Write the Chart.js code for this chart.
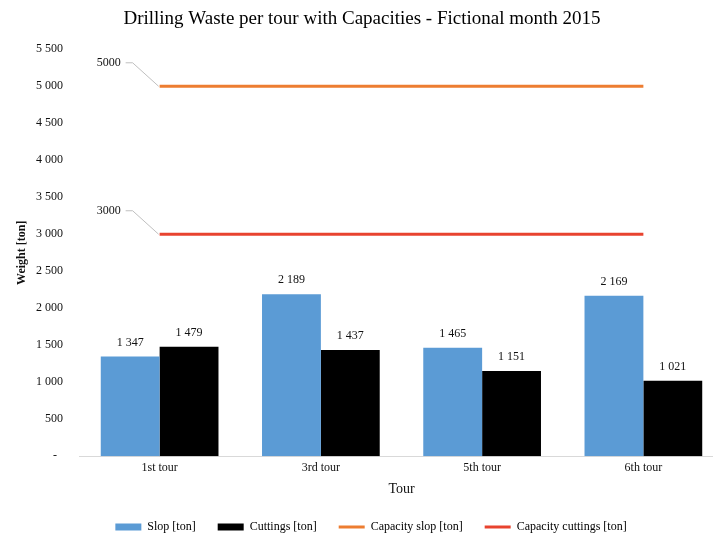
<!DOCTYPE html>
<html>
<head>
<meta charset="utf-8">
<script src="https://cdn.jsdelivr.net/npm/chart.js@4/dist/chart.umd.min.js"></script>
<style>
html, body { margin: 0; padding: 0; overflow: hidden; background: #fff; width: 713px; height: 536px; }
#wrap { width: 732px; height: 543px; }
</style>
</head>
<body>
<div id="wrap"><canvas id="c" width="732" height="543"></canvas></div>
<script>
const categories = ['1st tour', '3rd tour', '5th tour', '6th tour'];
const slop = [1347, 2189, 1465, 2169];
const cuttings = [1479, 1437, 1151, 1021];
const capacitySlop = [5000, 5000, 5000, 5000];
const capacityCuttings = [3000, 3000, 3000, 3000];
const seriesNames = ['Slop [ton]', 'Cuttings [ton]', 'Capacity slop [ton]', 'Capacity cuttings [ton]'];
const chartTitle = 'Drilling Waste per tour with Capacities - Fictional month 2015';
const xTitle = 'Tour';
const yTitle = 'Weight [ton]';

const SERIF = "'Liberation Serif', 'Times New Roman', serif";
const TEXT = '#111111';
const COLORS = ['#5B9BD5', '#000000', '#ED7D31', '#E8432F'];

function fmt(v) {
  if (v === 0) return '-  ';
  return String(Math.round(v)).replace(/\B(?=(\d{3})+(?!\d))/g, ' ');
}

const labelPlugin = {
  id: 'labels',
  beforeDraw(chart) {
    // shift the legend slightly right, as in the reference
    if (chart.legend && !chart.legend._shifted) {
      chart.legend.left += 9;
      chart.legend.right += 9;
      chart.legend._shifted = true;
    }
  },
  afterDatasetsDraw(chart) {
    const ctx = chart.ctx;
    ctx.save();
    ctx.font = '12px ' + SERIF;
    ctx.fillStyle = TEXT;
    ctx.textAlign = 'center';
    ctx.textBaseline = 'middle';
    [0, 1].forEach(di => {
      const meta = chart.getDatasetMeta(di);
      meta.data.forEach((el, i) => {
        ctx.fillText(fmt(chart.data.datasets[di].data[i]), el.x, el.y - 14);
      });
    });
    [2, 3].forEach(di => {
      const meta = chart.getDatasetMeta(di);
      const el = meta.data[0];
      const v = chart.data.datasets[di].data[0];
      ctx.strokeStyle = '#BFBFBF';
      ctx.lineWidth = 1;
      ctx.beginPath();
      ctx.moveTo(el.x - 34, el.y - 23.5);
      ctx.lineTo(el.x - 27, el.y - 23.5);
      ctx.lineTo(el.x - 1, el.y);
      ctx.stroke();
      ctx.textAlign = 'right';
      ctx.fillText(String(v), el.x - 39, el.y - 23.5);
    });
    ctx.restore();
  }
};

new Chart(document.getElementById('c'), {
  data: {
    labels: categories,
    datasets: [
      { type: 'bar', label: seriesNames[0], data: slop, backgroundColor: COLORS[0], order: 2 },
      { type: 'bar', label: seriesNames[1], data: cuttings, backgroundColor: COLORS[1], order: 2 },
      { type: 'line', label: seriesNames[2], data: capacitySlop, borderColor: COLORS[2], backgroundColor: COLORS[2], borderWidth: 3, pointRadius: 0, order: 1 },
      { type: 'line', label: seriesNames[3], data: capacityCuttings, borderColor: COLORS[3], backgroundColor: COLORS[3], borderWidth: 3, pointRadius: 0, order: 1 }
    ]
  },
  options: {
    responsive: false,
    devicePixelRatio: 1,
    animation: false,
    layout: { padding: { left: 0, right: 8, top: 0, bottom: 0 } },
    datasets: { bar: { categoryPercentage: 0.73, barPercentage: 1.0 } },
    plugins: {
      tooltip: { enabled: false },
      title: {
        display: true,
        text: chartTitle,
        color: '#000',
        font: { family: SERIF, size: 19, weight: 'normal' },
        padding: { top: 8, bottom: 18.5 }
      },
      legend: {
        position: 'bottom',
        labels: {
          color: TEXT,
          font: { family: SERIF, size: 12 },
          usePointStyle: true,
          pointStyleWidth: 26,
          boxHeight: 7,
          padding: 22,
          generateLabels(chart) {
            return chart.data.datasets.map((ds, i) => ({
              text: ds.label,
              fillStyle: COLORS[i],
              strokeStyle: COLORS[i],
              lineWidth: i < 2 ? 0 : 3,
              pointStyle: i < 2 ? 'rect' : 'line',
              hidden: false,
              datasetIndex: i
            }));
          }
        }
      }
    },
    scales: {
      x: {
        grid: { display: false, drawTicks: false },
        border: { display: true, color: '#D9D9D9', width: 1 },
        ticks: { color: TEXT, font: { family: SERIF, size: 12 }, padding: 4 },
        title: { display: true, text: xTitle, color: TEXT, font: { family: SERIF, size: 14 }, padding: { top: 2, bottom: 1.6 } }
      },
      y: {
        min: 0,
        max: 5500,
        grid: { display: false, drawTicks: false },
        border: { display: false },
        ticks: { stepSize: 500, color: TEXT, font: { family: SERIF, size: 12 }, padding: 16, callback: v => fmt(v) },
        title: { display: true, text: yTitle, color: TEXT, font: { family: SERIF, size: 12, weight: 'bold' }, padding: { top: 14.5, bottom: 0 } },
        afterFit(scale) { scale.width = 79; }
      }
    }
  },
  plugins: [labelPlugin]
});
</script>
</body>
</html>
